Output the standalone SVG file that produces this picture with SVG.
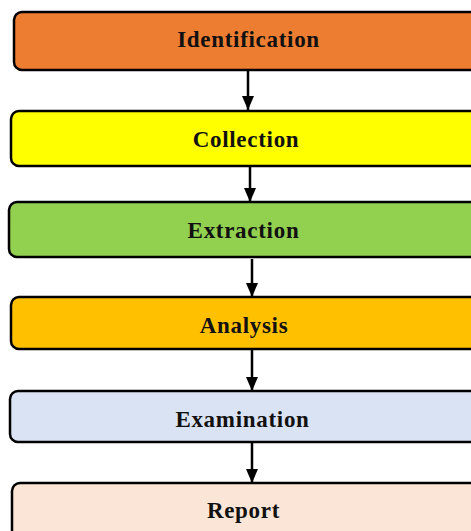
<svg xmlns="http://www.w3.org/2000/svg" width="471" height="531" viewBox="0 0 471 531">
  <style>
    .box { stroke: #000; stroke-width: 2.5; }
    .label { font-family: "Liberation Serif", "Times New Roman", serif; font-weight: bold; font-size: 23px; letter-spacing: 0.7px; fill: #111; text-anchor: middle; }
    .conn { stroke: #000; stroke-width: 2.5; fill: none; marker-end: url(#head); }
  </style>
  <defs>
    <marker id="head" viewBox="0 0 14 12" refX="14" refY="6" markerWidth="14" markerHeight="12" markerUnits="userSpaceOnUse" orient="auto">
      <path d="M0,0 L14,6 L0,12 Z" fill="#000"/>
    </marker>
  </defs>
  <rect width="471" height="531" fill="#fff"/>

  <g id="connectors">
    <line class="conn" x1="248" y1="70" x2="248" y2="110"/>
    <line class="conn" x1="250" y1="166" x2="250" y2="202"/>
    <line class="conn" x1="252" y1="259" x2="252" y2="297"/>
    <line class="conn" x1="252" y1="349" x2="252" y2="391"/>
    <line class="conn" x1="252" y1="442" x2="252" y2="483"/>
  </g>

  <g id="identification">
    <rect class="box" x="14" y="12" width="470" height="58" rx="8" fill="#ED7D31"/>
    <text class="label" x="248.5" y="47">Identification</text>
  </g>
  <g id="collection">
    <rect class="box" x="11" y="111" width="470" height="55" rx="8" fill="#FFFF00"/>
    <text class="label" x="246" y="147">Collection</text>
  </g>
  <g id="extraction">
    <rect class="box" x="9" y="202" width="470" height="55" rx="8" fill="#92D050"/>
    <text class="label" x="243.5" y="238">Extraction</text>
  </g>
  <g id="analysis">
    <rect class="box" x="11" y="297" width="470" height="52" rx="8" fill="#FFC000"/>
    <text class="label" x="244" y="333">Analysis</text>
  </g>
  <g id="examination">
    <rect class="box" x="10" y="391" width="470" height="51" rx="8" fill="#DAE3F3"/>
    <text class="label" x="242.5" y="427">Examination</text>
  </g>
  <g id="report">
    <rect class="box" x="12" y="483" width="470" height="60" rx="8" fill="#FBE5D6"/>
    <text class="label" x="243.5" y="518">Report</text>
  </g>
</svg>
